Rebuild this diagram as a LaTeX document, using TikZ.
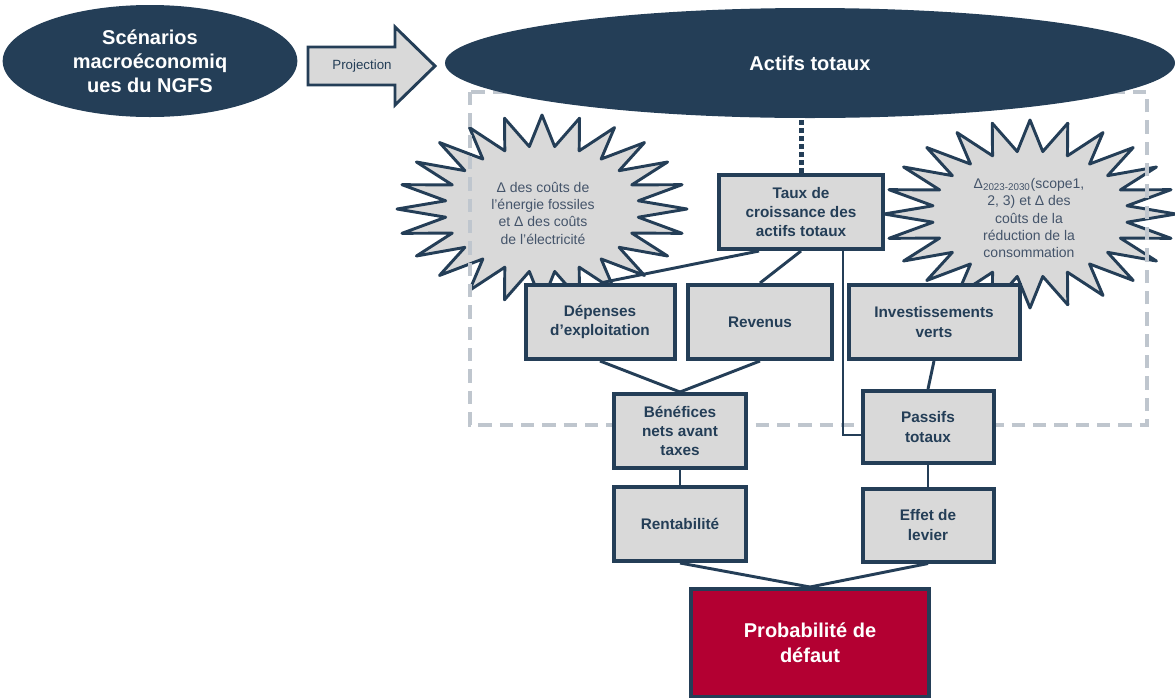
\documentclass[tikz,border=0pt]{standalone}
\usepackage{fontspec}
\setmainfont{Liberation Sans}
\usepackage{tikz}
\usetikzlibrary{positioning, shapes.geometric, calc}

\definecolor{navy}{HTML}{243E57}
\definecolor{boxgray}{HTML}{D9D9D9}
\definecolor{crimson}{HTML}{B30032}
\definecolor{framegray}{HTML}{BFC6CE}
\definecolor{burstink}{HTML}{44546A}

\begin{document}
\begin{tikzpicture}[
		x=0.75pt, y=-0.75pt,
		box/.style={draw=navy, line width=3pt, fill=boxgray, align=center, text=navy,
			font=\bfseries\fontsize{11.5}{14.5}\selectfont, inner sep=2pt},
		oval/.style={ellipse, fill=navy, text=white, align=center, inner sep=0pt,
			font=\bfseries\fontsize{15}{18}\selectfont},
		burst/.style={draw=navy, line width=2.2pt, fill=boxgray, line join=round},
		bursttext/.style={text=burstink, align=center, inner sep=0pt, font=\fontsize{10.5}{13}\selectfont},
		link/.style={draw=navy, line width=2.2pt}
	]
	\useasboundingbox (0,0) rectangle (1175,697);

	% Drivers (24-point stars)
	\draw[burst] (687,209) \foreach \k [evaluate=\k as \r using {mod(\k,2)==0 ? 1 : 0.67}] in {1,...,47}
		{ -- ({542+145*\r*cos(\k*7.5)},{209+94*\r*sin(\k*7.5)}) } -- cycle;
	\node[bursttext] (fossile) at (543,213)
		{Δ des coûts de\\l’énergie fossiles\\et Δ des coûts\\de l’électricité};
	\draw[burst] (1176,214) \foreach \k [evaluate=\k as \r using {mod(\k,2)==0 ? 1 : 0.67}] in {1,...,47}
		{ -- ({1030+146*\r*cos(\k*7.5)},{214+94*\r*sin(\k*7.5)}) } -- cycle;
	\node[bursttext] (scope) at (1029,218)
		{Δ\textsubscript{2023-2030}(scope1,\\2, 3) et Δ des\\coûts de la\\réduction de la\\consommation};

	% Scope frame
	\draw[framegray, line width=2.3pt, dash pattern=on 10pt off 6pt] (470,92) rectangle (1147,425);

	% Scenarios and projection
	\node[oval, minimum width=221pt, minimum height=84pt] (ngfs) at (150,61)
		{Scénarios\\macroéconomiq\\ues du NGFS};
	\node[oval, minimum width=547.5pt, minimum height=82.5pt] (actifs) at (810,63) {Actifs totaux};
	\draw[navy, line width=2.2pt, fill=boxgray, line join=miter]
		(308,47) -- (395,47) -- (395,27) -- (435,66) -- (395,105) -- (395,85) -- (308,85) -- cycle;
	\node[text=navy, font=\fontsize{10}{12}\selectfont] (proj) at (362,66) {Projection};

	% Balance sheet items
	\node[box, minimum width=123pt, minimum height=55.5pt] (taux) at (801,212)
		{Taux de\\croissance des\\actifs totaux};
	\node[box, minimum width=111.75pt, minimum height=55.5pt] (dep) at (600,322)
		{Dépenses\\d’exploitation};
	\node[box, minimum width=108pt, minimum height=55.5pt] (rev) at (760,322) {Revenus};
	\node[box, minimum width=128.25pt, minimum height=55.5pt] (inv) at (934,322)
		{Investissements\\verts};
	\node[box, minimum width=99pt, minimum height=55.5pt] (ben) at (680,431)
		{Bénéfices\\nets avant\\taxes};
	\node[box, minimum width=98.25pt, minimum height=54pt] (pas) at (928,427)
		{Passifs\\totaux};
	\node[box, minimum width=99pt, minimum height=55.5pt] (ren) at (680,524) {Rentabilité};
	\node[box, minimum width=98.25pt, minimum height=54.75pt] (eff) at (928,525)
		{Effet de\\levier};
	\node[box, fill=crimson, text=white, font=\bfseries\fontsize{15}{19}\selectfont,
		minimum width=178.5pt, minimum height=81pt] (prob) at (810,643)
		{Probabilité de\\défaut};

	% Links
	\draw[navy, line width=3.75pt, dash pattern=on 3.5pt off 2.5pt] (taux.north) -- (taux.north |- actifs.south);
	\draw[link] ($(taux.south west)!0.25!(taux.south east)$) -- (dep.north);
	\draw[link] (taux.south) -- (rev.north);
	\draw[link, line width=1.8pt] ($(taux.south west)!0.75!(taux.south east)$) |- ($(pas.west)+(0,8)$);
	\draw[link] (dep.south) -- (ben.north);
	\draw[link] (rev.south) -- (ben.north);
	\draw[link] (inv.south) -- (pas.north);
	\draw[link] (ben.south) -- (ren.north);
	\draw[link] (pas.south) -- (eff.north);
	\draw[link] (ren.south) -- (prob.north);
	\draw[link] (eff.south) -- (prob.north);

\end{tikzpicture}
\end{document}
